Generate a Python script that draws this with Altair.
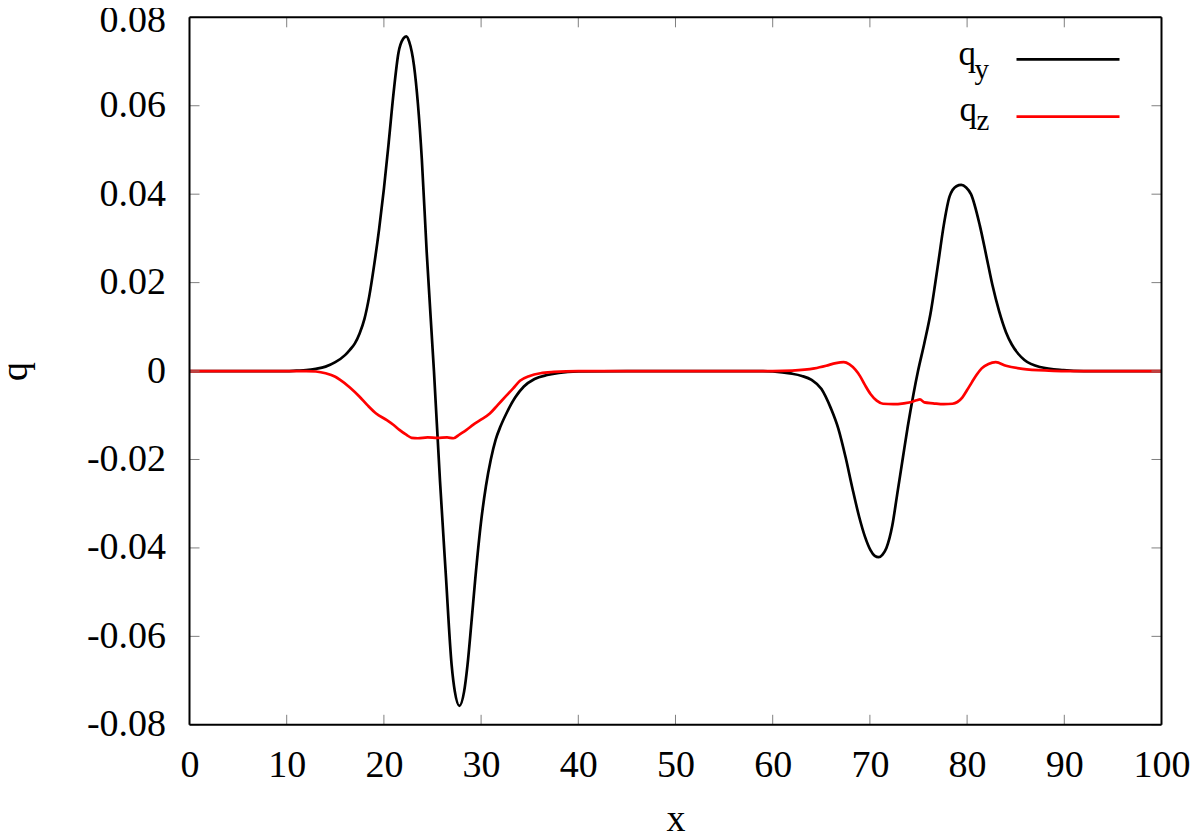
import altair as alt
import pandas as pd

# ---- data ----
qy_x = [0, 5, 10, 11, 12, 13, 14, 15, 16, 16.5, 17, 17.5, 18, 18.5, 19, 19.5, 20, 20.5, 21, 21.5, 22, 22.3, 22.6,
        23.1, 23.9, 24.4, 25.15, 25.77, 26.36, 26.97, 27.3, 27.77, 28.25, 28.6, 29.0, 29.4, 30.0, 30.5, 31.0,
        31.5, 32.0, 32.6, 33.5, 34.4, 35.5, 36.8, 38, 40, 45, 55, 59, 60, 61, 62, 63, 64, 65, 66, 66.75, 67.5,
        68.2, 68.9, 69.5, 70.06, 70.5, 70.9, 71.3, 71.7, 72.3, 72.8, 73.4, 73.9, 74.5, 74.95, 75.6, 76.3, 76.7,
        77.1, 77.6, 78.2, 78.9, 79.4, 79.9, 80.4, 81.3, 82.0, 82.6, 83.3, 84.0, 84.6, 85.3, 85.9, 87.5, 89.9,
        92, 100]
qy_y = [0, 0, 0, 0.0001, 0.0002, 0.0005, 0.0010, 0.0020, 0.0036, 0.0048, 0.0062, 0.0085, 0.0118, 0.0170,
        0.0240, 0.0320, 0.0412, 0.0518, 0.0630, 0.0720, 0.0752, 0.0757, 0.0745,
        0.0690, 0.0480, 0.0270, 0.0, -0.0248, -0.0457, -0.0665, -0.0725, -0.0757, -0.0725, -0.0665, -0.0570,
        -0.0470, -0.0340, -0.0260, -0.0200,
        -0.0155, -0.0125, -0.0096, -0.0060, -0.0035, -0.0018, -0.0009, -0.0004, -0.0001, 0, 0, 0, -0.0001,
        -0.0003, -0.0006, -0.0011, -0.0020, -0.0040, -0.0085, -0.0130, -0.0195,
        -0.0265, -0.0330, -0.0375, -0.0405, -0.0418, -0.0421, -0.0415, -0.0400, -0.0350, -0.0280, -0.0195,
        -0.0125, -0.0050, 0.0, 0.0063, 0.0138, 0.0195,
        0.0255, 0.0330, 0.0395, 0.0418, 0.0421, 0.0415, 0.0400, 0.0330, 0.0258, 0.0195, 0.0135, 0.0088,
        0.0060, 0.0038, 0.0025, 0.0009, 0.0002,
        0, 0]

qz_x = [0, 10, 12, 13, 14, 15, 15.5, 16.5, 17.5, 18.3, 19.2, 20.3, 21, 21.6, 22.3, 22.85, 23.5, 24.5, 25.5,
        26.5, 27.15, 27.8, 28.5, 29.2, 29.9, 30.9, 31.7, 32.5, 33.3, 34, 35, 36.1, 37.5, 40, 60, 62, 64.3,
        65.5, 66.5, 67.3, 67.9, 68.5, 69, 69.5, 70.06, 70.7, 71.35, 72.4, 73.5, 74.3, 74.8, 75.15, 75.6, 76.5,
        77.6, 78.5, 79.0, 79.5, 80.0, 80.5, 81.0, 81.5, 82.2, 82.95, 84, 85.7, 88.4, 90, 100]
qz_y = [0, 0, 0, -0.0001, -0.0005, -0.0013, -0.0020, -0.0037, -0.0058, -0.0077, -0.0096, -0.0111, -0.0122,
        -0.0133, -0.0144, -0.0151, -0.0152, -0.0150, -0.0151,
        -0.0150, -0.0152, -0.0143, -0.0133, -0.0121, -0.0111, -0.0096, -0.0077, -0.0058, -0.0039, -0.0022,
        -0.0011, -0.0005, -0.0002, 0, 0, 0.0001, 0.0006,
        0.0012, 0.0018, 0.0020, 0.0015, 0.0003, -0.0012, -0.0032, -0.0052, -0.0067, -0.0074, -0.0075, -0.0073,
        -0.0070, -0.0066, -0.0064, -0.0071, -0.0073,
        -0.0075, -0.0074, -0.0070, -0.0060, -0.0043, -0.0025, -0.0008, 0.0006, 0.0016, 0.0020, 0.0012, 0.0005,
        0.0001, 0, 0]

x_ticks = [0, 10, 20, 30, 40, 50, 60, 70, 80, 90, 100]
y_ticks = [-0.08, -0.06, -0.04, -0.02, 0, 0.02, 0.04, 0.06, 0.08]

FONT = "Liberation Serif"
W, H = 972, 707.5

df_y = pd.DataFrame({"x": qy_x, "q": qy_y, "i": range(len(qy_x))})
df_z = pd.DataFrame({"x": qz_x, "q": qz_y, "i": range(len(qz_x))})
xt = pd.DataFrame({"t": x_ticks})
yt = pd.DataFrame({"t": y_ticks})

xscale = alt.Scale(domain=[0, 100], nice=False, zero=False)
yscale = alt.Scale(domain=[-0.08, 0.08], nice=False, zero=False)

x_axis = alt.Axis(values=x_ticks, title="x", ticks=False, domain=False, grid=False,
                  labelFont=FONT, labelFontSize=38, labelPadding=22, labelColor="black",
                  titleFont=FONT, titleFontSize=38, titleFontWeight="normal", titleColor="black",
                  titleY=106, titleBaseline="alphabetic", labelFlush=False)
y_axis = alt.Axis(values=y_ticks, title="q", ticks=False, domain=False, grid=False,
                  labelExpr="datum.value == 0 ? '0' : (datum.value < 0 ? '-' : '') + format(abs(datum.value), '.2f')",
                  labelFont=FONT, labelFontSize=38, labelPadding=24, labelColor="black",
                  labelOffset=alt.condition("datum.value > 0.07", alt.value(3), alt.value(0)),
                  titleFont=FONT, titleFontSize=38, titleFontWeight="normal", titleColor="black",
                  titleX=-163, titleY=H / 2, titleAngle=-90, titleBaseline="alphabetic",
                  titleAlign="center", labelFlush=False)

line_y = alt.Chart(df_y).mark_line(color="black", strokeWidth=2.7, interpolate="monotone", clip=True).encode(
    x=alt.X("x:Q", scale=xscale, axis=x_axis),
    y=alt.Y("q:Q", scale=yscale, axis=y_axis),
    order="i:Q",
)
line_z = alt.Chart(df_z).mark_line(color="#ff0000", strokeWidth=2.7, interpolate="monotone", clip=True).encode(
    x=alt.X("x:Q", scale=xscale),
    y=alt.Y("q:Q", scale=yscale),
    order="i:Q",
)

tick_col = "#7f7f7f"
bot = alt.Chart(xt).mark_rule(color=tick_col, strokeWidth=1).encode(
    x=alt.X("t:Q", scale=xscale), y=alt.value(H), y2=alt.value(H - 10))
top = alt.Chart(xt).mark_rule(color=tick_col, strokeWidth=1).encode(
    x=alt.X("t:Q", scale=xscale), y=alt.value(0), y2=alt.value(10))
left = alt.Chart(yt).mark_rule(color=tick_col, strokeWidth=1).encode(
    y=alt.Y("t:Q", scale=yscale), x=alt.value(0), x2=alt.value(10))
right = alt.Chart(yt).mark_rule(color=tick_col, strokeWidth=1).encode(
    y=alt.Y("t:Q", scale=yscale), x=alt.value(W), x2=alt.value(W - 10))

# plot border
one = pd.DataFrame({"k": [0]})
border = (
    alt.Chart(one).mark_rule(color="black", strokeWidth=2).encode(x=alt.value(0), x2=alt.value(W), y=alt.value(0))
    + alt.Chart(one).mark_rule(color="black", strokeWidth=2).encode(x=alt.value(0), x2=alt.value(W), y=alt.value(H))
    + alt.Chart(one).mark_rule(color="black", strokeWidth=2).encode(x=alt.value(0), y=alt.value(0), y2=alt.value(H))
    + alt.Chart(one).mark_rule(color="black", strokeWidth=2).encode(x=alt.value(W), y=alt.value(0), y2=alt.value(H))
)

# legend
leg_names = ["q_y", "q_z"]
leg_black = alt.Chart(pd.DataFrame({"n": [leg_names[0]]})).mark_rule(color="black", strokeWidth=2.7).encode(
    x=alt.value(827), x2=alt.value(930), y=alt.value(42))
leg_red = alt.Chart(pd.DataFrame({"n": [leg_names[1]]})).mark_rule(color="#ff0000", strokeWidth=2.7).encode(
    x=alt.value(827), x2=alt.value(930), y=alt.value(99.4))


def txt(s, xpx, ypx, size):
    return alt.Chart(pd.DataFrame({"s": [s]})).mark_text(
        font=FONT, fontSize=size, align="left", baseline="alphabetic", color="black").encode(
        text="s:N", x=alt.value(xpx), y=alt.value(ypx))


legend = (txt("q", 769, 47.5, 35) + txt("y", 785, 62, 29) +
          txt("q", 770, 104, 35) + txt("z", 787, 112.5, 29))

chart = alt.layer(line_y, line_z, bot, top, left, right, border, leg_black, leg_red, legend).properties(
    width=W, height=H,
    background="white",
    autosize=alt.AutoSizeParams(type="none"),
    padding={"left": 181.5, "top": 9.3, "right": 30, "bottom": 112},
).configure_view(strokeWidth=0)

chart.save("out.html", embed_options={"renderer": "svg", "actions": False})
